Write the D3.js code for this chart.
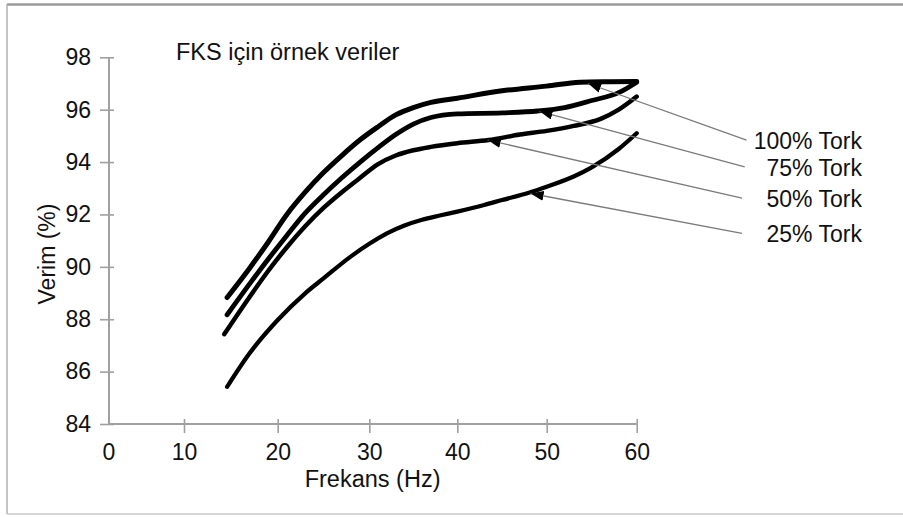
<!DOCTYPE html>
<html><head><meta charset="utf-8">
<script src="https://cdn.jsdelivr.net/npm/d3@7"></script>
<style>
html,body{margin:0;padding:0;background:#fff;}
text{font-family:"Liberation Sans",Arial,sans-serif;fill:#111;}
</style></head>
<body><svg id="c" width="903" height="517"></svg>
<script>
// ---- data ----
const xTicks = [0, 10, 20, 30, 40, 50, 60];
const yTicks = [84, 86, 88, 90, 92, 94, 96, 98];
const title = "FKS için örnek veriler";
const xTitle = "Frekans (Hz)";
const yTitle = "Verim (%)";
const seriesNames = ["100% Tork", "75% Tork", "50% Tork", "25% Tork"];

const hz100 = [14.6, 17, 19, 21, 23, 25, 27, 29, 31, 33, 35, 37, 40, 45, 50, 53.7, 57, 60];
const eff100 = [88.83, 89.95, 90.95, 92.0, 92.85, 93.6, 94.25, 94.85, 95.35, 95.8, 96.08, 96.28, 96.44, 96.72, 96.9, 97.05, 97.07, 97.08];

const hz75 = [14.6, 17, 19, 21, 23, 25, 27, 29, 31, 33, 35, 37, 40, 45, 49, 52, 55, 58, 60];
const eff75 = [88.17, 89.35, 90.3, 91.2, 92.05, 92.75, 93.4, 94.0, 94.55, 95.05, 95.45, 95.7, 95.84, 95.88, 95.95, 96.08, 96.35, 96.65, 97.05];

const hz50 = [14.3, 17, 19, 21, 23, 25, 27, 29, 31, 33, 35, 37, 40, 43.5, 47, 50, 53, 56, 58, 60];
const eff50 = [87.43, 88.85, 89.85, 90.75, 91.55, 92.25, 92.85, 93.4, 93.92, 94.25, 94.45, 94.58, 94.72, 94.84, 95.05, 95.19, 95.38, 95.65, 96.0, 96.5];

const hz25 = [14.6, 17, 20, 23, 25, 28, 30, 32, 34, 36, 38, 40, 43, 45, 48, 50, 53, 55, 58, 60];
const eff25 = [85.42, 86.7, 87.97, 88.99, 89.56, 90.4, 90.88, 91.28, 91.58, 91.8, 91.96, 92.11, 92.36, 92.55, 92.83, 93.06, 93.45, 93.8, 94.5, 95.1];

// annotation arrows: tip on curve, end near label (data units)
const arrowTipHz  = [54.6, 49.2, 43.4, 48.2];
const arrowTipEff = [97.0, 95.94, 94.84, 92.8];
const arrowEndHz  = [72.2, 72.0, 71.7, 71.7];
const arrowEndEff = [94.84, 93.82, 92.62, 91.28];

// ---- layout ----
const svg = d3.select("#c");
const x = d3.scaleLinear().domain(xTicks).range([108.5, 184, 277.7, 369.3, 457.3, 546.7, 636.7]);
const y = d3.scaleLinear().domain([84, 98]).range([424, 57.3]);

// frame
svg.append("line").attr("x1",7).attr("x2",903).attr("y1",4.5).attr("y2",4.5).attr("stroke","#9a9a9a").attr("stroke-width",2.5);
svg.append("line").attr("x1",7).attr("x2",7).attr("y1",4).attr("y2",514).attr("stroke","#b0b0b0").attr("stroke-width",1.5);
svg.append("line").attr("x1",7).attr("x2",903).attr("y1",514).attr("y2",514).attr("stroke","#c8c8c8").attr("stroke-width",1.5);

// axes
const axColor = "#a0a0a0";
const gy = svg.append("g").attr("transform","translate(109,0)")
  .call(d3.axisLeft(y).tickValues(yTicks).tickSize(9).tickSizeOuter(0).tickPadding(9));
gy.select(".domain").remove();
gy.selectAll(".tick line").attr("x1",5).attr("stroke",axColor).attr("stroke-width",1.6);
gy.selectAll(".tick text").style("font-size","23px").attr("fill","#111");
svg.append("line").attr("x1",109).attr("x2",109).attr("y1",y(98)).attr("y2",y(84)).attr("stroke",axColor).attr("stroke-width",2);

const gx = svg.append("g").attr("transform","translate(0,424)")
  .call(d3.axisBottom(x).tickValues(xTicks).tickSize(9).tickSizeOuter(0).tickPadding(11).tickFormat(d3.format("d")));
gx.select(".domain").remove();
gx.selectAll(".tick line").attr("y1",-5).attr("stroke",axColor).attr("stroke-width",1.6);
gx.selectAll(".tick").filter(d => d === 0).select("line").remove();
gx.selectAll(".tick text").style("font-size","23px").attr("fill","#111");
svg.append("line").attr("x1",x(0)).attr("x2",x(60)).attr("y1",424).attr("y2",424).attr("stroke",axColor).attr("stroke-width",2);

// titles
svg.append("text").attr("x",176).attr("y",60).style("font-size","23.5px").text(title);
svg.append("text").attr("x",(x(0)+x(60))/2).attr("y",487).attr("text-anchor","middle").style("font-size","23.5px").text(xTitle);
svg.append("text").attr("transform","translate(55,254) rotate(-90)").attr("text-anchor","middle").style("font-size","23px").text(yTitle);

// curves
const line = d3.line().x(d => x(d[0])).y(d => y(d[1])).curve(d3.curveMonotoneX);
const series = [[hz100, eff100, 5], [hz75, eff75, 4.8], [hz50, eff50, 4.5], [hz25, eff25, 4.3]];
series.forEach(([hx, ey, w]) => {
  svg.append("path").datum(d3.zip(hx, ey)).attr("d", line)
    .attr("fill","none").attr("stroke","#000").attr("stroke-width",w)
    .attr("stroke-linecap","round").attr("stroke-linejoin","round");
});

// arrow marker
svg.append("defs").append("marker").attr("id","ah").attr("viewBox","0 0 13 10")
  .attr("refX",13).attr("refY",5).attr("markerWidth",13).attr("markerHeight",10)
  .attr("markerUnits","userSpaceOnUse").attr("orient","auto")
  .append("path").attr("d","M0,0 L13,5 L0,10 Z").attr("fill","#000");

seriesNames.forEach((name, i) => {
  const x1 = x(arrowEndHz[i]), y1 = y(arrowEndEff[i]);
  svg.append("line").attr("x1",x1).attr("y1",y1)
    .attr("x2",x(arrowTipHz[i])).attr("y2",y(arrowTipEff[i]))
    .attr("stroke","#7a7a7a").attr("stroke-width",1.3).attr("marker-end","url(#ah)");
  svg.append("text").attr("x",862).attr("y",y1 + 9).attr("text-anchor","end")
    .style("font-size","23px").text(name);
});
</script></body></html>
